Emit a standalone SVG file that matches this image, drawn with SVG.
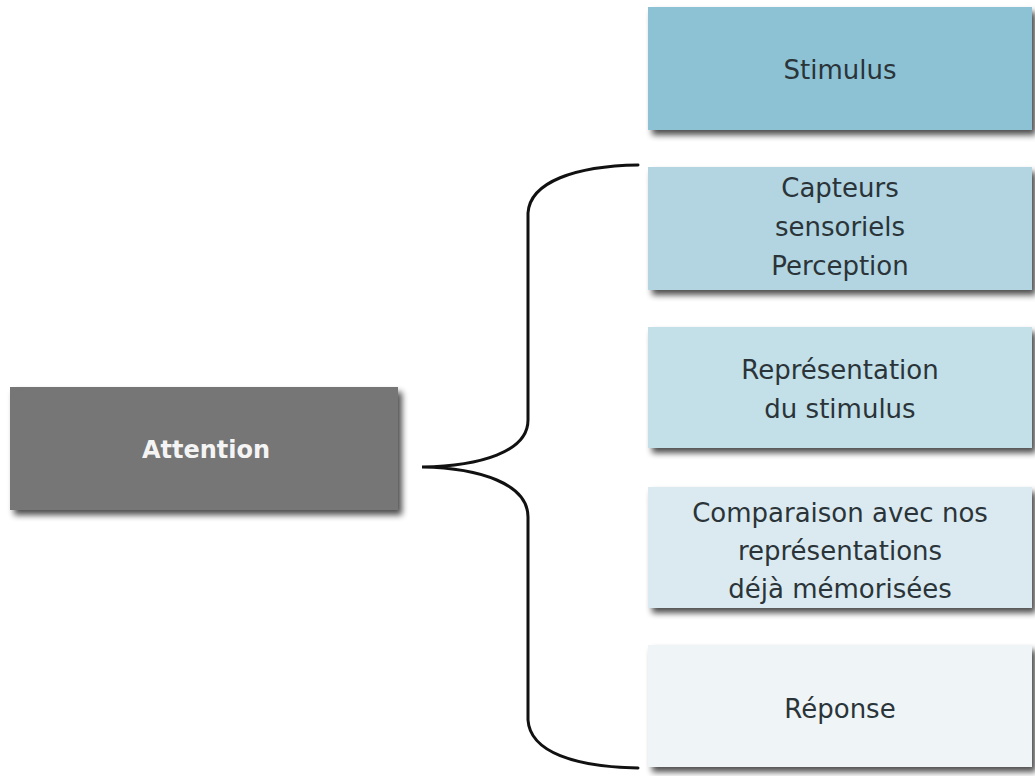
<svg xmlns="http://www.w3.org/2000/svg" width="1035" height="776" viewBox="0 0 1035 776">
<defs>
<filter id="sh" x="-5%" y="-10%" width="115%" height="130%">
<feGaussianBlur in="SourceAlpha" stdDeviation="3"/>
<feOffset dx="4" dy="5" result="b"/>
<feComponentTransfer><feFuncA type="linear" slope="0.7"/></feComponentTransfer>
<feMerge><feMergeNode/><feMergeNode in="SourceGraphic"/></feMerge>
</filter>
</defs>
<style>
.t{font-family:"DejaVu Sans","Noto Sans","Liberation Sans",sans-serif;font-size:26px;fill:#2a3439;text-anchor:middle}
.w{font-family:"DejaVu Sans","Noto Sans","Liberation Sans",sans-serif;font-size:24px;font-weight:bold;fill:#f4f4f4;text-anchor:middle}
.br{fill:none;stroke:#111;stroke-width:3;stroke-linecap:round}
</style>
<rect width="1035" height="776" fill="#ffffff"/>
<g id="connectors">
<path class="br" d="M638,165 C575,166 530,182 528,213 L528,420 C528,452 480,466 422,467 C480,468 528,484 528,517 L528,720 C530,752 575,767 638,768"/>
</g>
<g id="attention">
<rect x="10" y="387" width="388" height="123" fill="#767676" filter="url(#sh)"/>
<text class="w" x="206" y="458">Attention</text>
</g>
<g id="stimulus">
<rect x="648" y="7" width="384" height="123" fill="#8dc2d5" filter="url(#sh)"/>
<text class="t" x="840" y="79">Stimulus</text>
</g>
<g id="capteurs">
<rect x="648" y="167" width="384" height="123" fill="#b2d5e1" filter="url(#sh)"/>
<text class="t" x="840" y="197">Capteurs</text>
<text class="t" x="840" y="236">sensoriels</text>
<text class="t" x="840" y="275">Perception</text>
</g>
<g id="representation">
<rect x="648" y="327" width="384" height="121" fill="#c3dfe8" filter="url(#sh)"/>
<text class="t" x="840" y="379">Représentation</text>
<text class="t" x="840" y="418">du stimulus</text>
</g>
<g id="comparaison">
<rect x="648" y="487" width="384" height="121" fill="#dbeaf0" filter="url(#sh)"/>
<text class="t" x="840" y="522">Comparaison avec nos</text>
<text class="t" x="840" y="560">représentations</text>
<text class="t" x="840" y="598">déjà mémorisées</text>
</g>
<g id="reponse">
<rect x="648" y="645" width="384" height="122" fill="#eff5f7" filter="url(#sh)"/>
<text class="t" x="840" y="718">Réponse</text>
</g>
</svg>
